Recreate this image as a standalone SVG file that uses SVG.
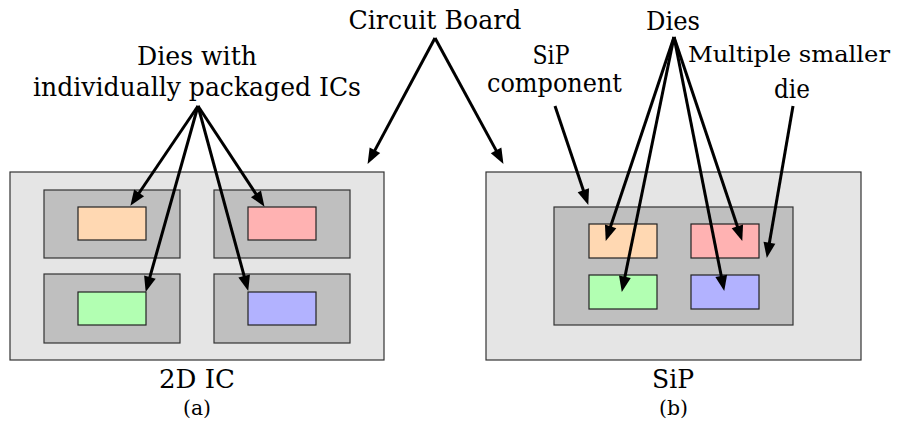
<svg xmlns="http://www.w3.org/2000/svg" width="898" height="425" viewBox="0 0 898 425">
  <defs>
    <marker id="head" markerUnits="userSpaceOnUse" markerWidth="20" markerHeight="20" viewBox="-8 -8 20 16" refX="0" refY="0" orient="auto">
      <path d="M10,0 L-5.5,-6 L-5.5,6 Z" fill="#000"/>
    </marker>
  </defs>
  <style>
    .board { fill: #e5e5e5; stroke: #333; stroke-width: 1.2; }
    .pkg { fill: #bfbfbf; stroke: #333; stroke-width: 1.2; }
    .orange { fill: #ffd8b2; stroke: #222; stroke-width: 1.2; }
    .red { fill: #ffb2b2; stroke: #222; stroke-width: 1.2; }
    .green { fill: #b2ffb2; stroke: #222; stroke-width: 1.2; }
    .blue { fill: #b2b2ff; stroke: #222; stroke-width: 1.2; }
    .lbl { font-family: 'DejaVu Serif', 'Liberation Serif', serif; font-size: 26px; fill: #000; text-anchor: middle; }
    .cap { font-size: 20px; }
    .arrow { stroke: #000; stroke-width: 3; fill: none; marker-end: url(#head); }
  </style>

  <!-- (a) 2D IC: circuit board with four individually packaged dies -->
  <g id="board-2d">
    <rect class="board" x="10" y="172" width="374" height="188"/>
  </g>
  <g id="pkg-2d-tl">
    <rect class="pkg" x="44" y="190" width="136" height="68"/>
    <rect class="orange" x="78" y="207" width="68" height="33"/>
  </g>
  <g id="pkg-2d-tr">
    <rect class="pkg" x="214" y="190" width="136" height="68"/>
    <rect class="red" x="248" y="207" width="68" height="33"/>
  </g>
  <g id="pkg-2d-bl">
    <rect class="pkg" x="44" y="274" width="136" height="69"/>
    <rect class="green" x="78" y="292" width="68" height="33"/>
  </g>
  <g id="pkg-2d-br">
    <rect class="pkg" x="214" y="274" width="136" height="69"/>
    <rect class="blue" x="248" y="292" width="68" height="33"/>
  </g>

  <!-- (b) SiP: one package holding four smaller dies -->
  <g id="board-sip">
    <rect class="board" x="486" y="172" width="375" height="188"/>
  </g>
  <g id="sip-component">
    <rect class="pkg" x="554" y="207" width="239" height="118"/>
    <rect class="orange" x="589" y="224" width="68" height="34"/>
    <rect class="red" x="691" y="224" width="68" height="34"/>
    <rect class="green" x="589" y="275" width="68" height="34"/>
    <rect class="blue" x="691" y="275" width="68" height="34"/>
  </g>

  <!-- labels -->
  <g class="lbl">
    <g id="label-board">
      <text x="435" y="29" textLength="173" lengthAdjust="spacingAndGlyphs">Circuit Board</text>
    </g>
    <g id="label-dies-2d">
      <text x="197" y="65" textLength="120" lengthAdjust="spacingAndGlyphs">Dies with</text>
      <text x="197" y="96" textLength="328" lengthAdjust="spacingAndGlyphs">individually packaged ICs</text>
    </g>
    <g id="label-sip-component">
      <text x="551" y="64" textLength="37" lengthAdjust="spacingAndGlyphs">SiP</text>
      <text x="554.5" y="92" textLength="135" lengthAdjust="spacingAndGlyphs">component</text>
    </g>
    <g id="label-dies-sip">
      <text x="673" y="30" textLength="54" lengthAdjust="spacingAndGlyphs">Dies</text>
    </g>
    <g id="label-smaller">
      <text x="789" y="62" font-size="23" textLength="202" lengthAdjust="spacingAndGlyphs">Multiple smaller</text>
      <text x="792" y="98" textLength="36" lengthAdjust="spacingAndGlyphs">die</text>
    </g>
    <g id="caption-a">
      <text x="197" y="388" textLength="76" lengthAdjust="spacingAndGlyphs">2D IC</text>
      <text class="cap" x="197" y="415" textLength="28" lengthAdjust="spacingAndGlyphs">(a)</text>
    </g>
    <g id="caption-b">
      <text x="673" y="388" textLength="42" lengthAdjust="spacingAndGlyphs">SiP</text>
      <text class="cap" x="673.5" y="415" textLength="29" lengthAdjust="spacingAndGlyphs">(b)</text>
    </g>
  </g>

  <!-- connectors -->
  <g id="connectors">
    <line class="arrow" x1="435" y1="38" x2="372.3" y2="155.1"/>
    <line class="arrow" x1="435" y1="38" x2="498.7" y2="155.1"/>
    <line class="arrow" x1="198" y1="106" x2="136.0" y2="197.5"/>
    <line class="arrow" x1="198" y1="106" x2="259.0" y2="198.5"/>
    <line class="arrow" x1="198" y1="106" x2="148.4" y2="282.3"/>
    <line class="arrow" x1="198" y1="106" x2="245.6" y2="281.3"/>
    <line class="arrow" x1="555" y1="106" x2="585.1" y2="195.5"/>
    <line class="arrow" x1="674" y1="37" x2="608.9" y2="231.5"/>
    <line class="arrow" x1="674" y1="37" x2="623.8" y2="282.2"/>
    <line class="arrow" x1="674" y1="37" x2="722.3" y2="281.2"/>
    <line class="arrow" x1="674" y1="37" x2="739.1" y2="231.5"/>
    <line class="arrow" x1="793" y1="106" x2="768.5" y2="248.1"/>
  </g>
</svg>
